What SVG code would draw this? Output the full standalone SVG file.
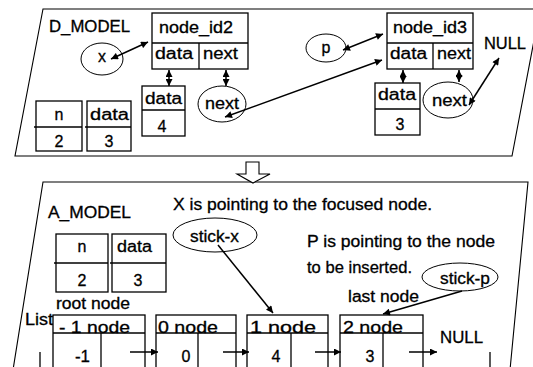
<svg xmlns="http://www.w3.org/2000/svg" width="533" height="367" viewBox="0 0 533 367">
<defs>
<marker id="ah" viewBox="0 0 10 10" refX="10" refY="5" markerWidth="8" markerHeight="7" markerUnits="userSpaceOnUse" orient="auto-start-reverse">
<path d="M0,0 L10,5 L0,10 z" fill="#000"/>
</marker>
<style>
text{font-family:"Liberation Sans",Arial,sans-serif;font-size:16px;fill:#000;stroke:#000;stroke-width:0.3}
.c{text-anchor:middle}
.box{fill:#fff;stroke:#000;stroke-width:1.3}
.ln{stroke:#000;stroke-width:1.3;fill:none}
.fr{stroke:#000;stroke-width:1.1;fill:#fff}
.ell{fill:#fff;stroke:#000;stroke-width:1}
.ar{stroke:#000;stroke-width:1.5;fill:none;marker-end:url(#ah)}
.ar2{stroke:#000;stroke-width:1.5;fill:none;marker-end:url(#ah);marker-start:url(#ah)}
</style>
</defs>
<rect width="533" height="367" fill="#fff"/>
<g id="d_model_frame">
<polygon class="fr" points="43,9 540,9 512,156 15,156"/>
<text x="49" y="32" textLength="81" lengthAdjust="spacingAndGlyphs">D_MODEL</text>
</g>
<g id="a_model_frame">
<polyline class="fr" points="13,370 43,182 528,182 510,370"/>
<text x="48" y="218" textLength="83" lengthAdjust="spacingAndGlyphs">A_MODEL</text>
</g>
<g id="transition_arrow">
<polygon class="fr" points="246,162 259,162 259,174 270,174 253,183 237,174 246,174"/>
</g>
<g id="x_ptr">
<ellipse class="ell" cx="102" cy="59" rx="21" ry="16"/>
<text class="c" x="102" y="62">x</text>
</g>
<g id="node_id2">
<rect class="box" x="152" y="13" width="96" height="56"/>
<line class="ln" x1="152" y1="43" x2="248" y2="43"/>
<line class="ln" x1="199" y1="43" x2="199" y2="69"/>
<text x="159" y="33" textLength="74" lengthAdjust="spacingAndGlyphs">node_id2</text>
<text x="155" y="59" textLength="38" lengthAdjust="spacingAndGlyphs">data</text>
<text x="203" y="59" textLength="35" lengthAdjust="spacingAndGlyphs">next</text>
</g>
<g id="data4">
<rect class="box" x="142" y="86" width="43" height="50"/>
<line class="ln" x1="142" y1="110" x2="185" y2="110"/>
<text x="145" y="104" textLength="37" lengthAdjust="spacingAndGlyphs">data</text>
<text class="c" x="162" y="132">4</text>
</g>
<g id="next2">
<ellipse class="ell" cx="222" cy="104" rx="24" ry="18"/>
<text x="205" y="109" textLength="34" lengthAdjust="spacingAndGlyphs">next</text>
</g>
<g id="p_ptr">
<ellipse class="ell" cx="326" cy="48" rx="20" ry="14"/>
<text class="c" x="326" y="53">p</text>
</g>
<g id="node_id3">
<rect class="box" x="387" y="13" width="86" height="56"/>
<line class="ln" x1="387" y1="43" x2="473" y2="43"/>
<line class="ln" x1="433" y1="43" x2="433" y2="69"/>
<text x="393" y="33" textLength="74" lengthAdjust="spacingAndGlyphs">node_id3</text>
<text x="390" y="59" textLength="37" lengthAdjust="spacingAndGlyphs">data</text>
<text x="437" y="59" textLength="34" lengthAdjust="spacingAndGlyphs">next</text>
</g>
<g id="data3">
<rect class="box" x="375" y="83" width="45" height="52"/>
<line class="ln" x1="375" y1="109" x2="420" y2="109"/>
<text x="378" y="100" textLength="38" lengthAdjust="spacingAndGlyphs">data</text>
<text class="c" x="400" y="130">3</text>
</g>
<g id="next3">
<ellipse class="ell" cx="448" cy="100" rx="25" ry="18"/>
<text x="432" y="106" textLength="35" lengthAdjust="spacingAndGlyphs">next</text>
</g>
<g id="null_top">
<text x="484" y="49" textLength="42" lengthAdjust="spacingAndGlyphs">NULL</text>
</g>
<g id="d_n">
<rect class="box" x="36" y="101" width="46" height="50"/>
<line class="ln" x1="34" y1="127" x2="82" y2="127"/>
<text class="c" x="59" y="120">n</text>
<text class="c" x="59" y="147">2</text>
</g>
<g id="d_data">
<rect class="box" x="87" y="101" width="44" height="50"/>
<line class="ln" x1="85" y1="127" x2="131" y2="127"/>
<text x="90" y="120" textLength="39" lengthAdjust="spacingAndGlyphs">data</text>
<text class="c" x="109" y="147">3</text>
</g>
<g id="notes">
<text x="173" y="210" textLength="259" lengthAdjust="spacingAndGlyphs">X is pointing to the focused node.</text>
<text x="307" y="247" textLength="188" lengthAdjust="spacingAndGlyphs">P is pointing to the node</text>
<text x="307" y="273" textLength="105" lengthAdjust="spacingAndGlyphs">to be inserted.</text>
<text x="348" y="302" textLength="71" lengthAdjust="spacingAndGlyphs">last node</text>
<text x="56" y="309" textLength="74" lengthAdjust="spacingAndGlyphs">root node</text>
<text x="25" y="325" textLength="28" lengthAdjust="spacingAndGlyphs">List</text>
</g>
<g id="stick_x">
<ellipse class="ell" cx="215" cy="235" rx="42" ry="17"/>
<text x="190" y="242" textLength="49" lengthAdjust="spacingAndGlyphs">stick-x</text>
</g>
<g id="stick_p">
<ellipse class="ell" cx="460" cy="277" rx="38" ry="14"/>
<text x="440" y="284" textLength="50" lengthAdjust="spacingAndGlyphs">stick-p</text>
</g>
<g id="a_n">
<rect class="box" x="56" y="234" width="52" height="58"/>
<line class="ln" x1="54" y1="263" x2="108" y2="263"/>
<text class="c" x="82" y="252">n</text>
<text class="c" x="82" y="286">2</text>
</g>
<g id="a_data">
<rect class="box" x="112" y="234" width="54" height="58"/>
<line class="ln" x1="110" y1="263" x2="166" y2="263"/>
<text x="117" y="252" textLength="35" lengthAdjust="spacingAndGlyphs">data</text>
<text class="c" x="138" y="286">3</text>
</g>
<g id="node_m1">
<rect class="box" x="53" y="315" width="92" height="60"/>
<line class="ln" x1="53" y1="333" x2="145" y2="333"/>
<line class="ln" x1="101" y1="333" x2="101" y2="375"/>
<text x="59" y="333" textLength="71" lengthAdjust="spacingAndGlyphs">- 1 node</text>
<text x="75" y="362" textLength="15" lengthAdjust="spacingAndGlyphs">-1</text>
</g>
<g id="node_0">
<rect class="box" x="156" y="315" width="80" height="60"/>
<line class="ln" x1="156" y1="333" x2="236" y2="333"/>
<line class="ln" x1="198" y1="333" x2="198" y2="375"/>
<text x="158" y="333" textLength="60" lengthAdjust="spacingAndGlyphs">0 node</text>
<text class="c" x="186" y="362">0</text>
</g>
<g id="node_1">
<rect class="box" x="247" y="315" width="81" height="60"/>
<line class="ln" x1="247" y1="333" x2="328" y2="333"/>
<line class="ln" x1="291" y1="333" x2="291" y2="375"/>
<text x="250" y="333" textLength="66" lengthAdjust="spacingAndGlyphs">1 node</text>
<text class="c" x="276" y="362">4</text>
</g>
<g id="node_2">
<rect class="box" x="340" y="315" width="83" height="60"/>
<line class="ln" x1="340" y1="333" x2="423" y2="333"/>
<line class="ln" x1="383" y1="333" x2="383" y2="375"/>
<text x="343" y="333" textLength="60" lengthAdjust="spacingAndGlyphs">2 node</text>
<text class="c" x="370" y="362">3</text>
</g>
<g id="null_bottom">
<text x="440" y="343" textLength="43" lengthAdjust="spacingAndGlyphs">NULL</text>
</g>
<g id="connectors">
<line class="ar2" x1="111" y1="59" x2="148" y2="42"/>
<line class="ar2" x1="169" y1="70" x2="169" y2="86"/>
<line class="ar2" x1="226" y1="70" x2="226" y2="86"/>
<line class="ar2" x1="225" y1="117" x2="382" y2="60"/>
<line class="ar2" x1="343" y1="50" x2="383" y2="34"/>
<line class="ar2" x1="403" y1="70" x2="403" y2="83"/>
<line class="ar2" x1="459" y1="70" x2="459" y2="82"/>
<line class="ar2" x1="469" y1="105" x2="499" y2="58"/>
<line class="ar" x1="218" y1="245" x2="273" y2="313"/>
<line class="ar" x1="462" y1="291" x2="383" y2="314"/>
<line class="ar" x1="130" y1="352" x2="158" y2="352"/>
<line class="ar" x1="223" y1="352" x2="249" y2="352"/>
<line class="ar" x1="315" y1="352" x2="341" y2="352"/>
<line class="ar" x1="409" y1="352" x2="437" y2="352"/>
<line class="ln" x1="40" y1="352" x2="40" y2="367"/>
<line class="ln" x1="490" y1="352" x2="490" y2="367"/>
</g>
</svg>
